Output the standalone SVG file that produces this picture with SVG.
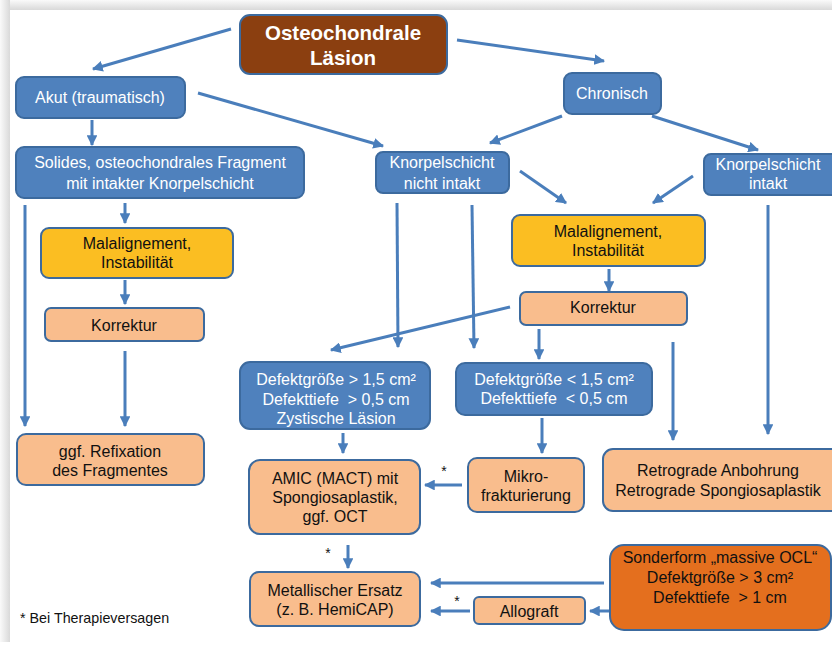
<svg xmlns="http://www.w3.org/2000/svg" width="832" height="660" viewBox="0 0 832 660">
<defs>
<linearGradient id="gt" x1="0" y1="0" x2="0" y2="1"><stop offset="0" stop-color="#fafafa"/><stop offset="1" stop-color="#d9d9d9"/></linearGradient>
<linearGradient id="gl" x1="0" y1="0" x2="1" y2="0"><stop offset="0" stop-color="#fafafa"/><stop offset="1" stop-color="#d9d9d9"/></linearGradient>
<marker id="ah" viewBox="0 0 10 10" refX="9" refY="5" markerWidth="3.6" markerHeight="3.6" orient="auto" markerUnits="strokeWidth">
<path d="M0,0 L10,5 L0,10 z" fill="#4A7EBB"/>
</marker>
<style>
.n rect{stroke:#3C6A9E;stroke-width:2}
.blue rect{fill:#4F81BD}
.brown rect{fill:#8B3F10}
.yel rect{fill:#FBBE22}
.peach rect{fill:#F9BD8D}
.orng rect{fill:#E46F1E}
text{font-family:"Liberation Sans",Arial,sans-serif;font-size:16px;text-anchor:middle;white-space:pre}
.blue text{fill:#ffffff}
.brown text{fill:#ffffff;font-weight:bold;font-size:20.5px}
.yel text,.peach text,.orng text{fill:#111111}
.c path{fill:none;stroke:#4A7EBB;stroke-width:3;marker-end:url(#ah)}
.star{font-size:14px;fill:#111}
</style>
</defs>
<rect x="0" y="0" width="832" height="660" fill="#ffffff"/>
<rect x="0" y="0" width="832" height="10" fill="url(#gt)"/>
<rect x="0" y="0" width="10" height="642" fill="url(#gl)"/>
<rect x="10" y="10" width="822" height="650" fill="#ffffff"/>

<g class="c" id="connectors">
<path d="M231,29 L93,69"/>
<path d="M457,40 L604,61"/>
<path d="M198,93 L383,146"/>
<path d="M92,120 L92,145"/>
<path d="M562,116 L490,143"/>
<path d="M652,116 L758,150"/>
<path d="M520,171 L566,203"/>
<path d="M693,176 L653,203"/>
<path d="M125,203 L125,223"/>
<path d="M25,205 L25,426"/>
<path d="M125,280 L125,304"/>
<path d="M125,351 L125,426"/>
<path d="M397,203 L398,347"/>
<path d="M472,205 L474,348"/>
<path d="M510,307 L331,350"/>
<path d="M539,329 L539,359"/>
<path d="M609,269 L609,291"/>
<path d="M673,342 L673,440"/>
<path d="M768,205 L768,434"/>
<path d="M343,433 L343,453"/>
<path d="M542,418 L542,453"/>
<path d="M462,485 L425,485"/>
<path d="M348,545 L348,568"/>
<path d="M604,583 L431,583"/>
<path d="M470,611 L431,611"/>
<path d="M612,611 L590,611"/>
</g>

<text class="star" x="444" y="476">*</text>
<text class="star" x="328" y="558">*</text>
<text class="star" x="457" y="606">*</text>

<g id="n_osteo" class="n brown"><rect x="240" y="15" width="207" height="59" rx="10"/><text x="343" y="40">Osteochondrale</text><text x="343" y="65">Läsion</text></g>
<g id="n_akut" class="n blue"><rect x="16" y="77" width="169" height="41" rx="8"/><text x="100" y="103">Akut (traumatisch)</text></g>
<g id="n_chron" class="n blue"><rect x="564" y="73" width="97" height="41" rx="8"/><text x="612" y="99">Chronisch</text></g>
<g id="n_solid" class="n blue"><rect x="16" y="147" width="288" height="51" rx="8"/><text x="160" y="168">Solides, osteochondrales Fragment</text><text x="160" y="189">mit intakter Knorpelschicht</text></g>
<g id="n_knni" class="n blue"><rect x="376" y="152" width="133" height="41" rx="7"/><text x="442" y="168">Knorpelschicht</text><text x="442" y="189">nicht intakt</text></g>
<g id="n_kni" class="n blue"><rect x="704" y="154" width="140" height="41" rx="7"/><text x="768" y="170">Knorpelschicht</text><text x="768" y="189">intakt</text></g>
<g id="n_mal1" class="n yel"><rect x="41" y="228" width="192" height="50" rx="8"/><text x="137" y="249">Malalignement,</text><text x="137" y="268">Instabilität</text></g>
<g id="n_kor1" class="n peach"><rect x="45" y="308" width="159" height="33" rx="6"/><text x="124" y="331">Korrektur</text></g>
<g id="n_mal2" class="n yel"><rect x="512" y="215" width="193" height="51" rx="8"/><text x="608" y="237">Malalignement,</text><text x="608" y="256">Instabilität</text></g>
<g id="n_kor2" class="n peach"><rect x="520" y="292" width="167" height="33" rx="6"/><text x="603" y="313">Korrektur</text></g>
<g id="n_def1" class="n blue"><rect x="240" y="362" width="190" height="67" rx="10"/><text x="336" y="385">Defektgröße &gt; 1,5 cm²</text><text x="336" y="405">Defekttiefe  &gt; 0,5 cm</text><text x="336" y="424">Zystische Läsion</text></g>
<g id="n_def2" class="n blue"><rect x="456" y="363" width="196" height="52" rx="9"/><text x="554" y="385">Defektgröße &lt; 1,5 cm²</text><text x="554" y="404">Defekttiefe  &lt; 0,5 cm</text></g>
<g id="n_refix" class="n peach"><rect x="17" y="434" width="187" height="51" rx="9"/><text x="110" y="457">ggf. Refixation</text><text x="110" y="476">des Fragmentes</text></g>
<g id="n_amic" class="n peach"><rect x="249" y="460" width="171" height="74" rx="11"/><text x="335" y="484">AMIC (MACT) mit</text><text x="335" y="503">Spongiosaplastik,</text><text x="335" y="522">ggf. OCT</text></g>
<g id="n_mikro" class="n peach"><rect x="468" y="458" width="116" height="54" rx="9"/><text x="526" y="482">Mikro-</text><text x="526" y="501">frakturierung</text></g>
<g id="n_retro" class="n peach"><rect x="603" y="449" width="240" height="62" rx="10"/><text x="718" y="476">Retrograde Anbohrung</text><text x="718" y="496">Retrograde Spongiosaplastik</text></g>
<g id="n_metal" class="n peach"><rect x="250" y="572" width="170" height="54" rx="9"/><text x="335" y="596">Metallischer Ersatz</text><text x="335" y="615">(z. B. HemiCAP)</text></g>
<g id="n_allo" class="n peach"><rect x="474" y="597" width="111" height="27" rx="5"/><text x="529" y="617">Allograft</text></g>
<g id="n_sonder" class="n orng"><rect x="610" y="545" width="221" height="85" rx="14"/><text x="720" y="563">Sonderform „massive OCL“</text><text x="720" y="583">Defektgröße &gt; 3 cm²</text><text x="720" y="603">Defekttiefe  &gt; 1 cm</text></g>

<text x="20" y="623" style="text-anchor:start;font-size:14.3px;fill:#111">* Bei Therapieversagen</text>
</svg>
